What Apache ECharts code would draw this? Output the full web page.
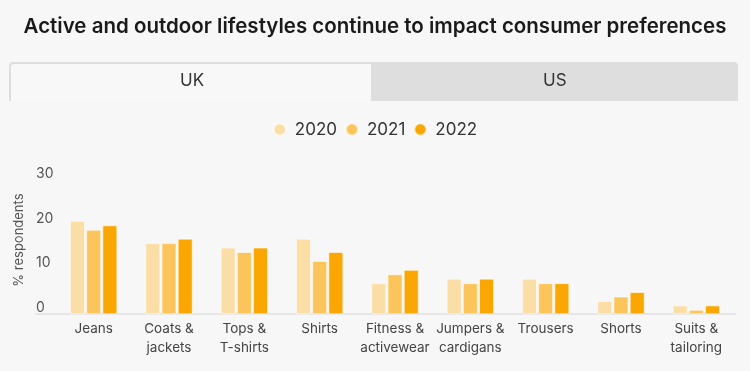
<!DOCTYPE html>
<html>
<head>
<meta charset="utf-8">
<script src="https://cdn.jsdelivr.net/npm/echarts@6/dist/echarts.min.js"></script>
<style>
html,body{margin:0;padding:0;background:#f7f7f7;}
#chart{width:750px;height:371px;}
</style>
</head>
<body>
<div id="chart"></div>
<script>
var titleText = 'Active and outdoor lifestyles continue to impact consumer preferences';
var tabs = ['UK', 'US'];
var categories = ['Jeans', 'Coats &\njackets', 'Tops &\nT-shirts', 'Shirts', 'Fitness &\nactivewear', 'Jumpers &\ncardigans', 'Trousers', 'Shorts', 'Suits &\ntailoring'];
var seriesNames = ['2020', '2021', '2022'];
var values2020 = [21, 16, 15, 17, 7, 8, 8, 3, 2];
var values2021 = [19, 16, 14, 12, 9, 7, 7, 4, 1];
var values2022 = [20, 17, 15, 14, 10, 8, 7, 5, 2];
var yTicks = [0, 10, 20, 30];
var colors = ['#fadea5', '#fbc55c', '#fba703'];

var FONT = 'Inter, "Noto Sans", sans-serif';
var chart = echarts.init(document.getElementById('chart'));
var allValues = [values2020, values2021, values2022];

var option = {
  backgroundColor: '#f7f7f7',
  animation: false,
  title: {
    text: titleText,
    left: 'center',
    top: 11,
    textStyle: {fontFamily: FONT, fontSize: 20.5, fontWeight: 600, color: '#1a1a1a'}
  },
  legend: {
    data: seriesNames,
    top: 116,
    left: 'center',
    icon: 'circle',
    itemWidth: 12,
    itemHeight: 12,
    itemGap: 8,
    textStyle: {fontFamily: FONT, fontSize: 17, color: '#333', padding: [0, 0, 0, 4]}
  },
  grid: {left: 56, right: 16, top: 180.8, bottom: 56.7},
  xAxis: {
    type: 'category',
    data: categories,
    axisLine: {show: false},
    axisTick: {show: false},
    axisLabel: {fontFamily: FONT, fontSize: 13.5, color: '#444', lineHeight: 19, margin: 5, interval: 0}
  },
  yAxis: {
    type: 'value',
    min: yTicks[0],
    max: yTicks[yTicks.length - 1],
    interval: 10,
    name: '% respondents',
    nameLocation: 'middle',
    nameRotate: 90,
    nameGap: 30,
    nameTextStyle: {fontFamily: FONT, fontSize: 13, color: '#555', padding: [0, 0, 0, 15]},
    splitLine: {show: false},
    axisLine: {show: false},
    axisTick: {show: false},
    axisLabel: {fontFamily: FONT, fontSize: 14, color: '#555', align: 'left', margin: 20, verticalAlign: 'bottom', padding: [0, 0, 0, 0]}
  },
  graphic: [
    {type: 'rect', shape: {x: 9, y: 62, width: 729, height: 39, r: [4, 4, 0, 0]}, style: {fill: '#dedede'}, z: 0},
    {type: 'rect', shape: {x: 11, y: 64, width: 360, height: 37, r: [3, 0, 0, 0]}, style: {fill: '#f8f8f8'}, z: 1},
    {type: 'text', left: 180, top: 72, style: {text: tabs[0], fontFamily: FONT, fontSize: 17, fill: '#333'}, z: 2},
    {type: 'text', left: 543, top: 72, style: {text: tabs[1], fontFamily: FONT, fontSize: 17, fill: '#333'}, z: 2},
    {type: 'rect', shape: {x: 35, y: 313, width: 701, height: 2}, style: {fill: '#e6e6e6'}, z: 1}
  ],
  series: seriesNames.map(function (n, i) {
    return {
      name: n,
      type: 'bar',
      data: allValues[i],
      barWidth: 15,
      barGap: '8%',
      z: 3,
      itemStyle: {color: colors[i], borderColor: 'rgba(255,255,255,0.55)', borderWidth: 1}
    };
  })
};
chart.setOption(option);
</script>
</body>
</html>
